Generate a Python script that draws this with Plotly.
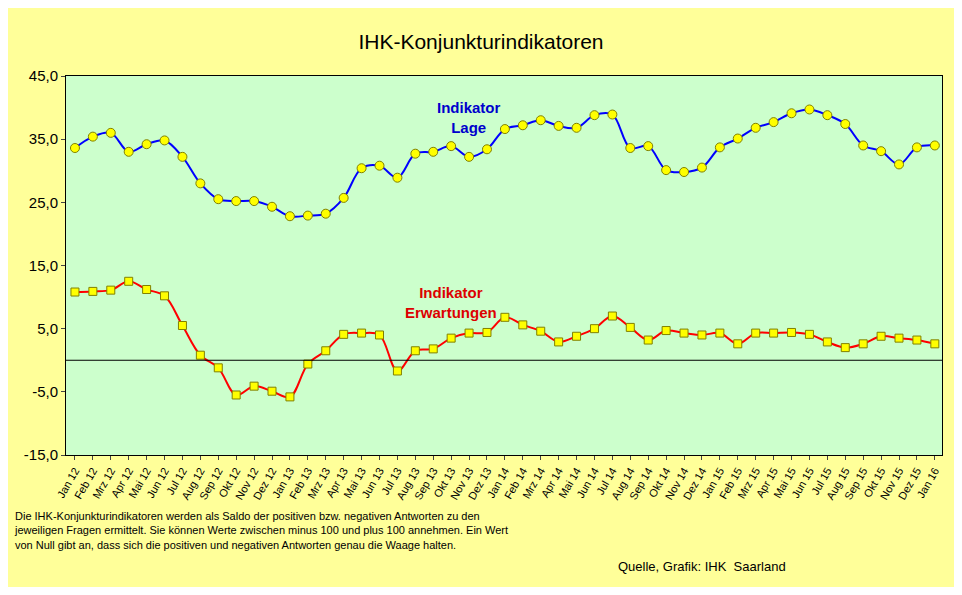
import plotly.graph_objects as go

monate = ["Jan", "Feb", "Mrz", "Apr", "Mai", "Jun", "Jul", "Aug", "Sep", "Okt", "Nov", "Dez"]
kategorien = [f"{m} {j}" for j in range(12, 16) for m in monate] + ["Jan 16"]

lage = [33.6, 35.4, 36.0, 33.0, 34.2, 34.8, 32.2, 28.0, 25.5, 25.2, 25.2, 24.3,
        22.8, 22.9, 23.2, 25.7, 30.4, 30.8, 28.9, 32.7, 33.0, 33.9, 32.2, 33.4,
        36.6, 37.2, 38.0, 37.1, 36.8, 38.8, 38.9, 33.6, 33.9, 30.1, 29.8, 30.5,
        33.7, 35.1, 36.8, 37.7, 39.1, 39.7, 38.8, 37.4, 34.0, 33.1, 31.0, 33.7,
        34.0]
erwartungen = [10.8, 10.9, 11.1, 12.5, 11.2, 10.2, 5.5, 0.8, -1.2, -5.5, -4.1, -4.9,
               -5.8, -0.6, 1.5, 4.1, 4.3, 4.0, -1.7, 1.5, 1.8, 3.5, 4.3, 4.4,
               6.8, 5.6, 4.6, 2.9, 3.8, 5.0, 7.0, 5.2, 3.2, 4.7, 4.3, 4.0,
               4.3, 2.6, 4.3, 4.3, 4.4, 4.1, 2.9, 2.0, 2.6, 3.8, 3.5, 3.2,
               2.6]
y_ticks = [45, 35, 25, 15, 5, -5, -15]
y_labels = ["45,0", "35,0", "25,0", "15,0", "5,0", "-5,0", "-15,0"]

fig = go.Figure()
fig.add_trace(go.Scatter(x=kategorien, y=lage, mode="lines+markers", name="Lage",
                         line=dict(color="#0000FF", width=2, shape="spline"),
                         marker=dict(symbol="circle", size=9, color="#FFFF00",
                                     line=dict(color="#808000", width=1))))
fig.add_trace(go.Scatter(x=kategorien, y=erwartungen, mode="lines+markers", name="Erwartungen",
                         line=dict(color="#FF0000", width=2, shape="spline"),
                         marker=dict(symbol="square", size=8, color="#FFFF00",
                                     line=dict(color="#808000", width=1))))

fig.add_hline(y=0, line=dict(color="black", width=1))

fig.add_annotation(x="Nov 13", y=38.5, text="<b>Indikator<br>Lage</b>", showarrow=False,
                   font=dict(color="#0000CC", size=15, family="Arial"))
fig.add_annotation(x="Okt 13", y=9.2, text="<b>Indikator<br>Erwartungen</b>", showarrow=False,
                   font=dict(color="#DD0000", size=15, family="Arial"))
fig.add_annotation(xref="paper", yref="paper", x=-0.062, y=-0.14, xanchor="left", yanchor="top",
                   align="left", showarrow=False,
                   text="Die IHK-Konjunkturindikatoren werden als Saldo der positiven bzw. negativen Antworten zu den<br>"
                        "jeweiligen Fragen ermittelt. Sie können Werte zwischen minus 100 und plus 100 annehmen. Ein Wert<br>"
                        "von Null gibt an, dass sich die positiven und negativen Antworten genau die Waage halten.",
                   font=dict(size=11, family="Arial", color="black"))
fig.add_annotation(xref="paper", yref="paper", x=0.824, y=-0.27, xanchor="right", yanchor="top",
                   showarrow=False, text="Quelle, Grafik: IHK  Saarland",
                   font=dict(size=13, family="Arial", color="black"))

fig.update_layout(
    title=dict(text="IHK-Konjunkturindikatoren", x=0.5, y=0.955, xanchor="center",
               font=dict(size=21, family="Arial", color="black")),
    paper_bgcolor="#FFFF99", plot_bgcolor="#CCFFCC",
    margin=dict(l=58, r=12, t=68, b=132),
    showlegend=False,
    font=dict(family="Arial", color="black"),
)
fig.update_xaxes(showgrid=False, showline=True, linecolor="black", mirror=True,
                 tickangle=-60, tickfont=dict(size=11), ticks="outside", ticklen=4,
                 range=[-0.5, 48.4])
fig.update_yaxes(range=[-15, 45], tickvals=y_ticks, ticktext=y_labels, showgrid=False,
                 zeroline=False, showline=True, linecolor="black", mirror=True,
                 ticks="outside", ticklen=4, tickfont=dict(size=15))

fig.write_html("out.html")
